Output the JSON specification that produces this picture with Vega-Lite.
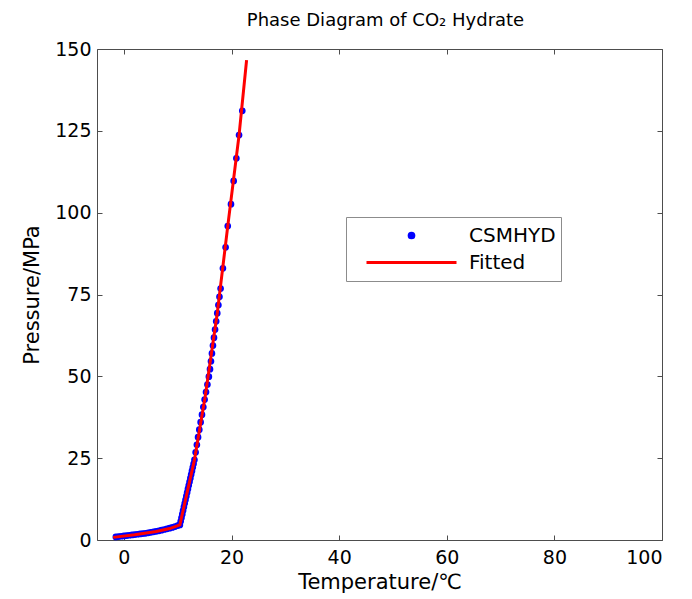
{
  "$schema": "https://vega.github.io/schema/vega-lite/v6.json",
  "width": 565,
  "height": 491,
  "autosize": {"type": "none"},
  "padding": {"left": 97, "top": 49, "right": 30, "bottom": 59},
  "background": "#ffffff",
  "title": {"text": "Phase Diagram of CO₂ Hydrate", "fontSize": 18, "fontWeight": "normal", "font": "DejaVu Sans", "color": "#000000", "anchor": "middle", "frame": "group", "baseline": "alphabetic", "offset": 18, "dy": 22, "dx": 6},
  "config": {
    "font": "DejaVu Sans",
    "view": {"stroke": null},
    "axis": {"grid": false, "domainColor": "#4d4d4d", "tickColor": "#4d4d4d", "tickSize": -5, "labelFontSize": 19, "titleFontSize": 21, "titleFontWeight": "normal", "labelColor": "#000000", "titleColor": "#000000", "labelFont": "DejaVu Sans", "titleFont": "DejaVu Sans"},
    "legend": {"orient": "none", "legendX": 249, "legendY": 168, "title": null, "fillColor": "#ffffff", "strokeColor": "#8c8c8c", "padding": 5, "symbolOffset": 14, "labelOffset": 11, "labelFontSize": 20, "labelFont": "DejaVu Sans", "labelColor": "#000000", "clipHeight": 27, "rowPadding": 0, "symbolStrokeWidth": 3, "symbolOpacity": 1}
  },
  "layer": [
    {
      "data": {"values": [
        {"T": -1.5, "P": 0.95, "series": "CSMHYD"},
        {"T": -1.0, "P": 1.05, "series": "CSMHYD"},
        {"T": -0.5, "P": 1.15, "series": "CSMHYD"},
        {"T": 0.0, "P": 1.25, "series": "CSMHYD"},
        {"T": 0.5, "P": 1.35, "series": "CSMHYD"},
        {"T": 1.0, "P": 1.45, "series": "CSMHYD"},
        {"T": 1.5, "P": 1.55, "series": "CSMHYD"},
        {"T": 2.0, "P": 1.65, "series": "CSMHYD"},
        {"T": 2.5, "P": 1.75, "series": "CSMHYD"},
        {"T": 3.0, "P": 1.85, "series": "CSMHYD"},
        {"T": 3.5, "P": 1.95, "series": "CSMHYD"},
        {"T": 4.0, "P": 2.05, "series": "CSMHYD"},
        {"T": 4.5, "P": 2.2, "series": "CSMHYD"},
        {"T": 5.0, "P": 2.35, "series": "CSMHYD"},
        {"T": 5.5, "P": 2.5, "series": "CSMHYD"},
        {"T": 6.0, "P": 2.65, "series": "CSMHYD"},
        {"T": 6.5, "P": 2.8, "series": "CSMHYD"},
        {"T": 7.0, "P": 3.0, "series": "CSMHYD"},
        {"T": 7.5, "P": 3.2, "series": "CSMHYD"},
        {"T": 8.0, "P": 3.4, "series": "CSMHYD"},
        {"T": 8.5, "P": 3.6, "series": "CSMHYD"},
        {"T": 9.0, "P": 3.85, "series": "CSMHYD"},
        {"T": 9.5, "P": 4.1, "series": "CSMHYD"},
        {"T": 10.0, "P": 4.4, "series": "CSMHYD"},
        {"T": 10.4, "P": 4.6, "series": "CSMHYD"},
        {"T": 10.55, "P": 5.7, "series": "CSMHYD"},
        {"T": 10.7, "P": 6.8, "series": "CSMHYD"},
        {"T": 10.85, "P": 7.9, "series": "CSMHYD"},
        {"T": 11.0, "P": 9.0, "series": "CSMHYD"},
        {"T": 11.15, "P": 10.1, "series": "CSMHYD"},
        {"T": 11.3, "P": 11.2, "series": "CSMHYD"},
        {"T": 11.45, "P": 12.3, "series": "CSMHYD"},
        {"T": 11.6, "P": 13.4, "series": "CSMHYD"},
        {"T": 11.75, "P": 14.5, "series": "CSMHYD"},
        {"T": 11.9, "P": 15.6, "series": "CSMHYD"},
        {"T": 12.05, "P": 16.7, "series": "CSMHYD"},
        {"T": 12.2, "P": 17.8, "series": "CSMHYD"},
        {"T": 12.35, "P": 18.9, "series": "CSMHYD"},
        {"T": 12.5, "P": 20.0, "series": "CSMHYD"},
        {"T": 12.65, "P": 21.1, "series": "CSMHYD"},
        {"T": 12.8, "P": 22.2, "series": "CSMHYD"},
        {"T": 12.95, "P": 23.3, "series": "CSMHYD"},
        {"T": 13.11, "P": 24.5, "series": "CSMHYD"},
        {"T": 13.33, "P": 26.8, "series": "CSMHYD"},
        {"T": 13.56, "P": 29.1, "series": "CSMHYD"},
        {"T": 13.78, "P": 31.4, "series": "CSMHYD"},
        {"T": 14.01, "P": 33.7, "series": "CSMHYD"},
        {"T": 14.26, "P": 36.0, "series": "CSMHYD"},
        {"T": 14.51, "P": 38.3, "series": "CSMHYD"},
        {"T": 14.76, "P": 40.6, "series": "CSMHYD"},
        {"T": 15.0, "P": 42.9, "series": "CSMHYD"},
        {"T": 15.26, "P": 45.2, "series": "CSMHYD"},
        {"T": 15.52, "P": 47.5, "series": "CSMHYD"},
        {"T": 15.79, "P": 49.9, "series": "CSMHYD"},
        {"T": 16.0, "P": 52.2, "series": "CSMHYD"},
        {"T": 16.18, "P": 54.6, "series": "CSMHYD"},
        {"T": 16.36, "P": 57.0, "series": "CSMHYD"},
        {"T": 16.55, "P": 59.4, "series": "CSMHYD"},
        {"T": 16.74, "P": 61.8, "series": "CSMHYD"},
        {"T": 16.94, "P": 64.3, "series": "CSMHYD"},
        {"T": 17.15, "P": 66.8, "series": "CSMHYD"},
        {"T": 17.35, "P": 69.3, "series": "CSMHYD"},
        {"T": 17.56, "P": 71.8, "series": "CSMHYD"},
        {"T": 17.76, "P": 74.3, "series": "CSMHYD"},
        {"T": 17.97, "P": 76.8, "series": "CSMHYD"},
        {"T": 18.4, "P": 83.0, "series": "CSMHYD"},
        {"T": 18.9, "P": 89.4, "series": "CSMHYD"},
        {"T": 19.3, "P": 95.9, "series": "CSMHYD"},
        {"T": 19.9, "P": 102.6, "series": "CSMHYD"},
        {"T": 20.4, "P": 109.7, "series": "CSMHYD"},
        {"T": 20.9, "P": 116.6, "series": "CSMHYD"},
        {"T": 21.4, "P": 123.7, "series": "CSMHYD"},
        {"T": 22.0, "P": 131.1, "series": "CSMHYD"}
      ]},
      "mark": {"type": "point", "filled": true, "opacity": 1, "stroke": "#0000ff", "strokeWidth": 2},
      "encoding": {
        "x": {"field": "T", "type": "quantitative", "scale": {"domain": [-5, 100], "nice": false, "zero": false},
              "axis": {"orient": "bottom", "values": [0, 20, 40, 60, 80, 100], "title": "Temperature/℃", "labelPadding": 13, "titlePadding": 4}},
        "y": {"field": "P", "type": "quantitative", "scale": {"domain": [0, 150], "nice": false, "zero": false},
              "axis": {"orient": "left", "values": [0, 25, 50, 75, 100, 125, 150], "title": "Pressure/MPa", "labelPadding": 11, "titlePadding": 12}},
        "color": {"field": "series", "type": "nominal", "scale": {"domain": ["CSMHYD", "Fitted"], "range": ["#0000ff", "#ff0000"]},
                  "legend": {"labelExpr": "datum.label + '\u2003\u2003\u2002'"}},
        "shape": {"field": "series", "type": "nominal", "scale": {"domain": ["CSMHYD", "Fitted"], "range": ["circle", "stroke"]}},
        "size": {"field": "series", "type": "nominal", "scale": {"type": "ordinal", "domain": ["CSMHYD", "Fitted"], "range": [22, 8100]}}
      }
    },
    {
      "data": {"values": [
        {"T": -2.0, "P": 0.8, "series": "Fitted"},
        {"T": 2.0, "P": 1.6, "series": "Fitted"},
        {"T": 6.0, "P": 2.6, "series": "Fitted"},
        {"T": 8.5, "P": 3.5, "series": "Fitted"},
        {"T": 10.4, "P": 4.6, "series": "Fitted"},
        {"T": 13.1, "P": 24.4, "series": "Fitted"},
        {"T": 15.1, "P": 43.8, "series": "Fitted"},
        {"T": 17.35, "P": 69.3, "series": "Fitted"},
        {"T": 19.3, "P": 95.9, "series": "Fitted"},
        {"T": 21.4, "P": 123.7, "series": "Fitted"},
        {"T": 22.8, "P": 146.6, "series": "Fitted"}
      ]},
      "mark": {"type": "line", "strokeWidth": 3},
      "encoding": {
        "x": {"field": "T", "type": "quantitative", "axis": {"orient": "top", "values": [0, 20, 40, 60, 80, 100], "labels": false, "title": null}},
        "y": {"field": "P", "type": "quantitative", "axis": {"orient": "right", "values": [0, 25, 50, 75, 100, 125, 150], "labels": false, "title": null}},
        "color": {"field": "series", "type": "nominal", "legend": {"labelExpr": "datum.label + '\u2003\u2003\u2002'"}}
      }
    }
  ],
  "resolve": {"axis": {"x": "independent", "y": "independent"}}
}
